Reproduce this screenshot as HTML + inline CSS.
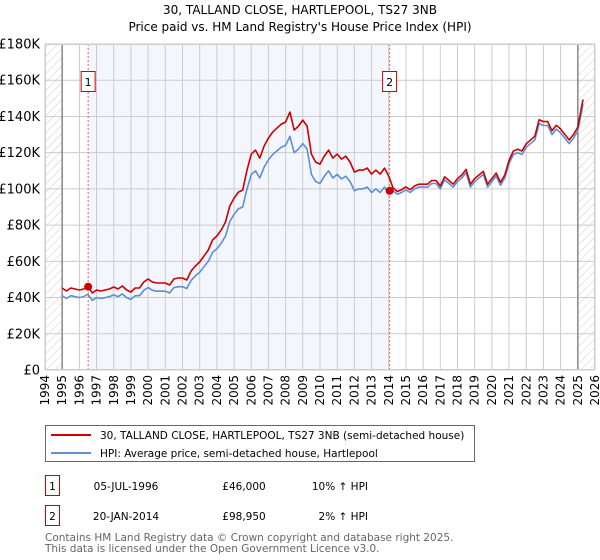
<!DOCTYPE html>
<html><head><meta charset="utf-8"><style>
body{margin:0;background:#fff;width:600px;height:560px;overflow:hidden;font-family:"DejaVu Sans","Liberation Sans",sans-serif;}
svg{display:block}
</style></head><body>
<svg id="chart" width="600" height="560" viewBox="0 0 600 560">
<defs>
<pattern id="hatch" width="6" height="6" patternUnits="userSpaceOnUse" patternTransform="rotate(45)">
<line x1="0" y1="0" x2="0" y2="6" stroke="#ccc" stroke-width="1"/>
</pattern>
</defs>
<text x="300" y="14" text-anchor="middle" font-size="12" fill="#000">30, TALLAND CLOSE, HARTLEPOOL, TS27 3NB</text>
<text x="300" y="31" text-anchor="middle" font-size="12" fill="#000">Price paid vs. HM Land Registry's House Price Index (HPI)</text>
<g id="plot"></g>
<g>
<rect x="45.5" y="425.5" width="429" height="36" fill="#fff" stroke="#666"/>
<line x1="51" y1="435" x2="91" y2="435" stroke="#cc0000" stroke-width="2"/>
<text x="100" y="439" font-size="10.5">30, TALLAND CLOSE, HARTLEPOOL, TS27 3NB (semi-detached house)</text>
<line x1="51" y1="453" x2="91" y2="453" stroke="#5b8fd6" stroke-width="2"/>
<text x="100" y="457" font-size="10.5">HPI: Average price, semi-detached house, Hartlepool</text>
</g>
<g>
<rect x="45.5" y="475.5" width="14" height="20" fill="#fff" stroke="#cc0000"/>
<text x="52.5" y="490" text-anchor="middle" font-size="10.5">1</text>
<text x="126" y="490" text-anchor="middle" font-size="10.5">05-JUL-1996</text>
<text x="244" y="490" text-anchor="middle" font-size="10.5">£46,000</text>
<text x="368" y="490" text-anchor="end" font-size="10.5">10% ↑ HPI</text>
<rect x="45.5" y="505.5" width="14" height="20" fill="#fff" stroke="#cc0000"/>
<text x="52.5" y="520" text-anchor="middle" font-size="10.5">2</text>
<text x="126" y="520" text-anchor="middle" font-size="10.5">20-JAN-2014</text>
<text x="244" y="520" text-anchor="middle" font-size="10.5">£98,950</text>
<text x="368" y="520" text-anchor="end" font-size="10.5">2% ↑ HPI</text>
</g>
<text x="45" y="541" font-size="10.5" fill="#666">Contains HM Land Registry data © Crown copyright and database right 2025.</text>
<text x="45" y="552" font-size="10.5" fill="#666">This data is licensed under the Open Government Licence v3.0.</text>
</svg>
<script>
const hpiYears=[1995,1995.25,1995.5,1995.75,1996,1996.25,1996.5,1996.75,1997,1997.25,1997.5,1997.75,1998,1998.25,1998.5,1998.75,1999,1999.25,1999.5,1999.75,2000,2000.25,2000.5,2000.75,2001,2001.25,2001.5,2001.75,2002,2002.25,2002.5,2002.75,2003,2003.25,2003.5,2003.75,2004,2004.25,2004.5,2004.75,2005,2005.25,2005.5,2005.75,2006,2006.25,2006.5,2006.75,2007,2007.25,2007.5,2007.75,2008,2008.25,2008.5,2008.75,2009,2009.25,2009.5,2009.75,2010,2010.25,2010.5,2010.75,2011,2011.25,2011.5,2011.75,2012,2012.25,2012.5,2012.75,2013,2013.25,2013.5,2013.75,2014,2014.25,2014.5,2014.75,2015,2015.25,2015.5,2015.75,2016,2016.25,2016.5,2016.75,2017,2017.25,2017.5,2017.75,2018,2018.25,2018.5,2018.75,2019,2019.25,2019.5,2019.75,2020,2020.25,2020.5,2020.75,2021,2021.25,2021.5,2021.75,2022,2022.5,2022.75,2023,2023.25,2023.5,2023.75,2024,2024.25,2024.5,2024.75,2025,2025.3];
const hpiValues=[41,39.5,41,40.5,40,40.5,41.8,38.5,40,39.5,40,40.5,41.5,40.5,42,40,39,41,41,44,45.5,44,43.5,43.5,43.5,42.5,45.5,46,46,45,49.5,52,54,57,60,65,67,70,74,82,86,89,90,100,108,110,106,112,116,119,121,123,124,129,120,122,125,122,108,104,103,107,110,106,108,105.5,107,104,99,100,100,101,98,100,98,101,97,99,97,98,99.5,98,100,101,101,101,103,103,100,105,103,101,104,106,109,101,104,106,108,101,104,107,102,106,114,119,120,119,123,127,136,135,135,130,133,131,128,125,128,132,147];
const saleYears=[1996.51,2014.05];
const salePrices=[46,98.95];
const yTicks=[0,20,40,60,80,100,120,140,160,180];
const yTickLabels=["£0","£20K","£40K","£60K","£80K","£100K","£120K","£140K","£160K","£180K"];
const xTicks=[1994,1995,1996,1997,1998,1999,2000,2001,2002,2003,2004,2005,2006,2007,2008,2009,2010,2011,2012,2013,2014,2015,2016,2017,2018,2019,2020,2021,2022,2023,2024,2025,2026];

const X0=45,X1=595,Y0=370,Y1=44;
const xs=t=>X0+(t-1994)/(2026-1994)*(X1-X0);
const ys=v=>Y0-v/180*(Y0-Y1);
const NS="http://www.w3.org/2000/svg";
const plot=document.getElementById('plot');
function mk(tag,attrs){const e=document.createElementNS(NS,tag);for(const k in attrs)e.setAttribute(k,attrs[k]);plot.appendChild(e);return e;}
function hpiAt(t){for(let i=0;i<hpiYears.length-1;i++){if(t<=hpiYears[i+1]){const f=(t-hpiYears[i])/(hpiYears[i+1]-hpiYears[i]);return hpiValues[i]+f*(hpiValues[i+1]-hpiValues[i]);}}return hpiValues[hpiValues.length-1];}

let e=mk('rect',{x:X0,y:Y1,width:X1-X0,height:Y0-Y1,fill:'#fff'});


e=mk('rect',{x:xs(saleYears[0]),y:Y1,width:xs(saleYears[1])-xs(saleYears[0]),height:Y0-Y1,fill:'#f3f6fd'});


e=mk('rect',{x:X0,y:Y1,width:xs(1995)-X0,height:Y0-Y1,fill:'url(#hatch)'});


e=mk('rect',{x:xs(2025),y:Y1,width:X1-xs(2025),height:Y0-Y1,fill:'url(#hatch)'});



xTicks.forEach(t=>{
 const g=mk('line',{x1:xs(t),x2:xs(t),y1:Y1,y2:Y0,stroke:'#ccc','stroke-width':1});
 
 
 const tx=mk('text',{x:0,y:0,'font-size':12,'text-anchor':'end',transform:`translate(${xs(t)+4},${Y0+5}) rotate(-90)`});
 tx.textContent=t;
 
 
});
yTicks.forEach((v,i)=>{
 const g=mk('line',{x1:X0,x2:X1,y1:ys(v),y2:ys(v),stroke:'#ccc','stroke-width':1});
 
 
 const tx=mk('text',{x:40,y:ys(v)+4.5,'font-size':13,'text-anchor':'end'});
 tx.textContent=yTickLabels[i];
 
 
});
[1995,2025].forEach(t=>{
 const l=mk('line',{x1:xs(t),x2:xs(t),y1:Y1,y2:Y0,stroke:'#888','stroke-width':1.5});
 
 
});
saleYears.forEach((t,i)=>{
 const l=mk('line',{x1:xs(t),x2:xs(t),y1:Y1,y2:Y0,stroke:'#f06060','stroke-width':1,'stroke-dasharray':'2,2'});
 
 
 const r=mk('rect',{x:xs(t)-7,y:71.5,width:14,height:20,fill:'#fff',stroke:'#cc0000'});
 
 
 const tx=mk('text',{x:xs(t),y:86,'font-size':11,'text-anchor':'middle'});
 tx.textContent=String(i+1);
 
 
});
let d='';hpiYears.forEach((t,i)=>{d+=(i?'L':'M')+xs(t).toFixed(1)+','+ys(hpiValues[i]).toFixed(1);});
e=mk('path',{d:d,fill:'none',stroke:'#5b8fd6','stroke-width':1.6,'stroke-linejoin':'round'});


const f1=salePrices[0]/hpiAt(saleYears[0]),f2=salePrices[1]/hpiAt(saleYears[1]);
d='';hpiYears.forEach((t,i)=>{const f=t<saleYears[1]?f1:f2;d+=(i?'L':'M')+xs(t).toFixed(1)+','+ys(hpiValues[i]*f).toFixed(1);});
e=mk('path',{d:d,fill:'none',stroke:'#cc0000','stroke-width':1.6,'stroke-linejoin':'round'});


saleYears.forEach((t,i)=>{
 const c=mk('circle',{cx:xs(t),cy:ys(salePrices[i]),r:4,fill:'#cc0000'});
 
 
});
e=mk('rect',{x:X0+0.5,y:Y1+0.5,width:X1-X0-1,height:Y0-Y1-1,fill:'none',stroke:'#ccc'});


</script>
</body></html>
